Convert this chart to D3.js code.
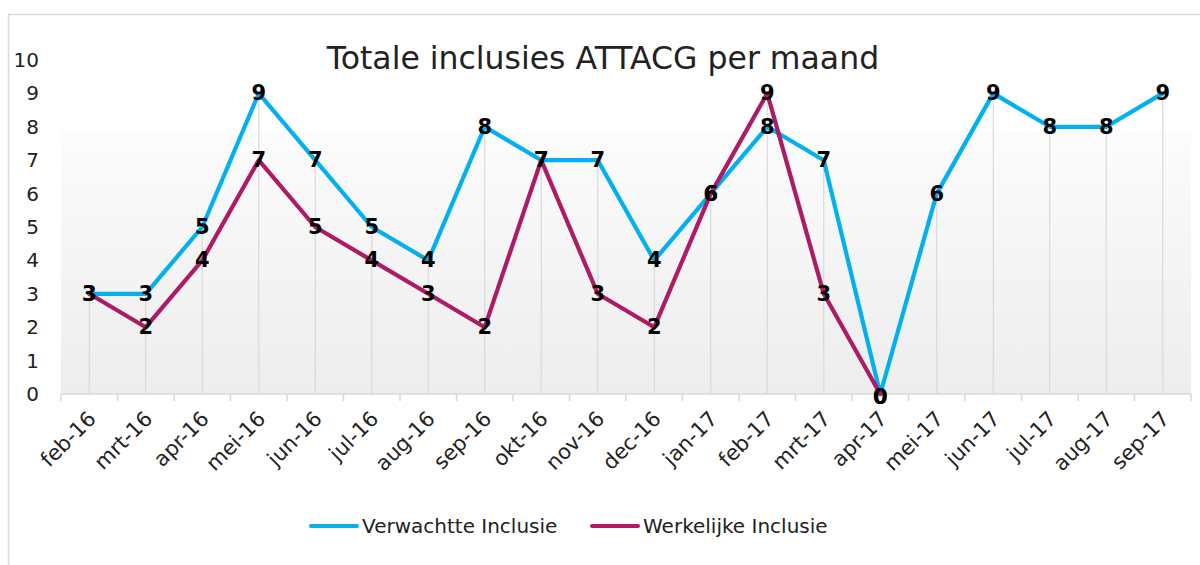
<!DOCTYPE html>
<html><head><meta charset="utf-8">
<script src="https://cdn.jsdelivr.net/npm/d3@7"></script>
<style>body{margin:0;background:#fff;}svg{display:block;}</style>
</head><body>
<svg id="chart" width="1200" height="565"></svg>
<script>
const months = ["feb-16","mrt-16","apr-16","mei-16","jun-16","jul-16","aug-16","sep-16","okt-16","nov-16","dec-16","jan-17","feb-17","mrt-17","apr-17","mei-17","jun-17","jul-17","aug-17","sep-17"];
const verwacht = [3,3,5,9,7,5,4,8,7,7,4,6,8,7,0,6,9,8,8,9];
const werkelijk = [3,2,4,7,5,4,3,2,7,3,2,6,9,3,0,null,null,null,null,null];
const yTicks = [0,1,2,3,4,5,6,7,8,9,10];
const title = "Totale inclusies ATTACG per maand";
const seriesNames = ["Verwachtte Inclusie","Werkelijke Inclusie"];
const colors = ["#00b0f0","#ae1a63"];

const font = "'DejaVu Sans', sans-serif";
const svg = d3.select("#chart");
svg.append("rect").attr("width",1200).attr("height",565).attr("fill","#fff");
svg.append("rect").attr("x",8.5).attr("y",14.5).attr("width",1200).attr("height",600)
  .attr("fill","none").attr("stroke","#d9d9d9").attr("stroke-width",1.5);

const x = d3.scaleBand().domain(months).range([61,1191]);
const y = d3.scaleLinear().domain([0,10]).range([394,60]);

const defs = svg.append("defs");
const g = defs.append("linearGradient").attr("id","bg").attr("x1",0).attr("y1",0).attr("x2",0).attr("y2",1);
g.append("stop").attr("offset","0%").attr("stop-color","#fcfcfc");
g.append("stop").attr("offset","100%").attr("stop-color","#ededed");
svg.append("rect").attr("x",x.range()[0]).attr("y",y(7.9)).attr("width",x.range()[1]-x.range()[0])
  .attr("height",y(0)-y(7.9)).attr("fill","url(#bg)");

// drop lines
const cx = d => x(d)+x.bandwidth()/2;
svg.append("g").selectAll("line").data(months.map((m,i)=>({m,v:Math.max(verwacht[i], werkelijk[i]??0)})))
  .join("line").attr("x1",d=>cx(d.m)).attr("x2",d=>cx(d.m)).attr("y1",d=>y(d.v)).attr("y2",y(0))
  .attr("stroke","#d9d9d9").attr("stroke-width",1.2);

// x axis line and boundary ticks
const ax = svg.append("g").attr("stroke","#d9d9d9").attr("stroke-width",1.5);
ax.append("line").attr("x1",x.range()[0]).attr("x2",x.range()[1]).attr("y1",y(0)).attr("y2",y(0));
const bounds = months.map(m=>x(m)).concat([x.range()[1]]);
ax.selectAll("line.t").data(bounds).join("line").attr("class","t")
  .attr("x1",d=>d).attr("x2",d=>d).attr("y1",y(0)).attr("y2",y(0)+7);

// x labels
const xAxis = svg.append("g").attr("transform",`translate(0,${y(0)})`)
  .call(d3.axisBottom(x).tickSize(0).tickPadding(0));
xAxis.select(".domain").remove();
xAxis.selectAll("text").attr("font-family",font).attr("font-size",21).attr("fill","#222")
  .attr("text-anchor","end").attr("dy",0)
  .attr("transform","translate(8,26) rotate(-45)");

// y labels
const yAxis = svg.append("g").attr("transform","translate(39,0)")
  .call(d3.axisLeft(y).tickValues(yTicks).tickSize(0).tickPadding(0));
yAxis.select(".domain").remove();
yAxis.selectAll("text").attr("font-family",font).attr("font-size",20).attr("fill","#222");

// title
svg.append("text").attr("x",603).attr("y",69).attr("text-anchor","middle")
  .attr("font-family",font).attr("font-size",31.5).attr("fill","#222").text(title);

// lines
const line = d3.line().defined(d=>d.v!=null).x(d=>cx(d.m)).y(d=>y(d.v));
const series = [verwacht, werkelijk];
series.forEach((s,k)=>{
  svg.append("path").datum(months.map((m,i)=>({m,v:s[i]})))
    .attr("d",line).attr("fill","none").attr("stroke",colors[k]).attr("stroke-width",4.2)
    .attr("stroke-linejoin","round").attr("stroke-linecap","round");
});
// data labels
series.forEach((s,k)=>{
  svg.append("g").selectAll("text").data(months.map((m,i)=>({m,v:s[i]})).filter(d=>d.v!=null))
    .join("text").attr("x",d=>cx(d.m)).attr("y",d=>y(d.v)+ (d.v===0?10:7))
    .attr("text-anchor","middle").attr("font-family",font).attr("font-weight","bold")
    .attr("font-size",21).attr("fill","#000").text(d=>d.v);
});

// legend
const leg = [{x:311,name:seriesNames[0],c:colors[0]},{x:592,name:seriesNames[1],c:colors[1]}];
leg.forEach(l=>{
  svg.append("line").attr("x1",l.x).attr("x2",l.x+46).attr("y1",526).attr("y2",526)
    .attr("stroke",l.c).attr("stroke-width",4).attr("stroke-linecap","round");
  svg.append("text").attr("x",l.x+51).attr("y",533).attr("font-family",font).attr("font-size",20)
    .attr("fill","#222").text(l.name);
});
</script>
</body></html>
